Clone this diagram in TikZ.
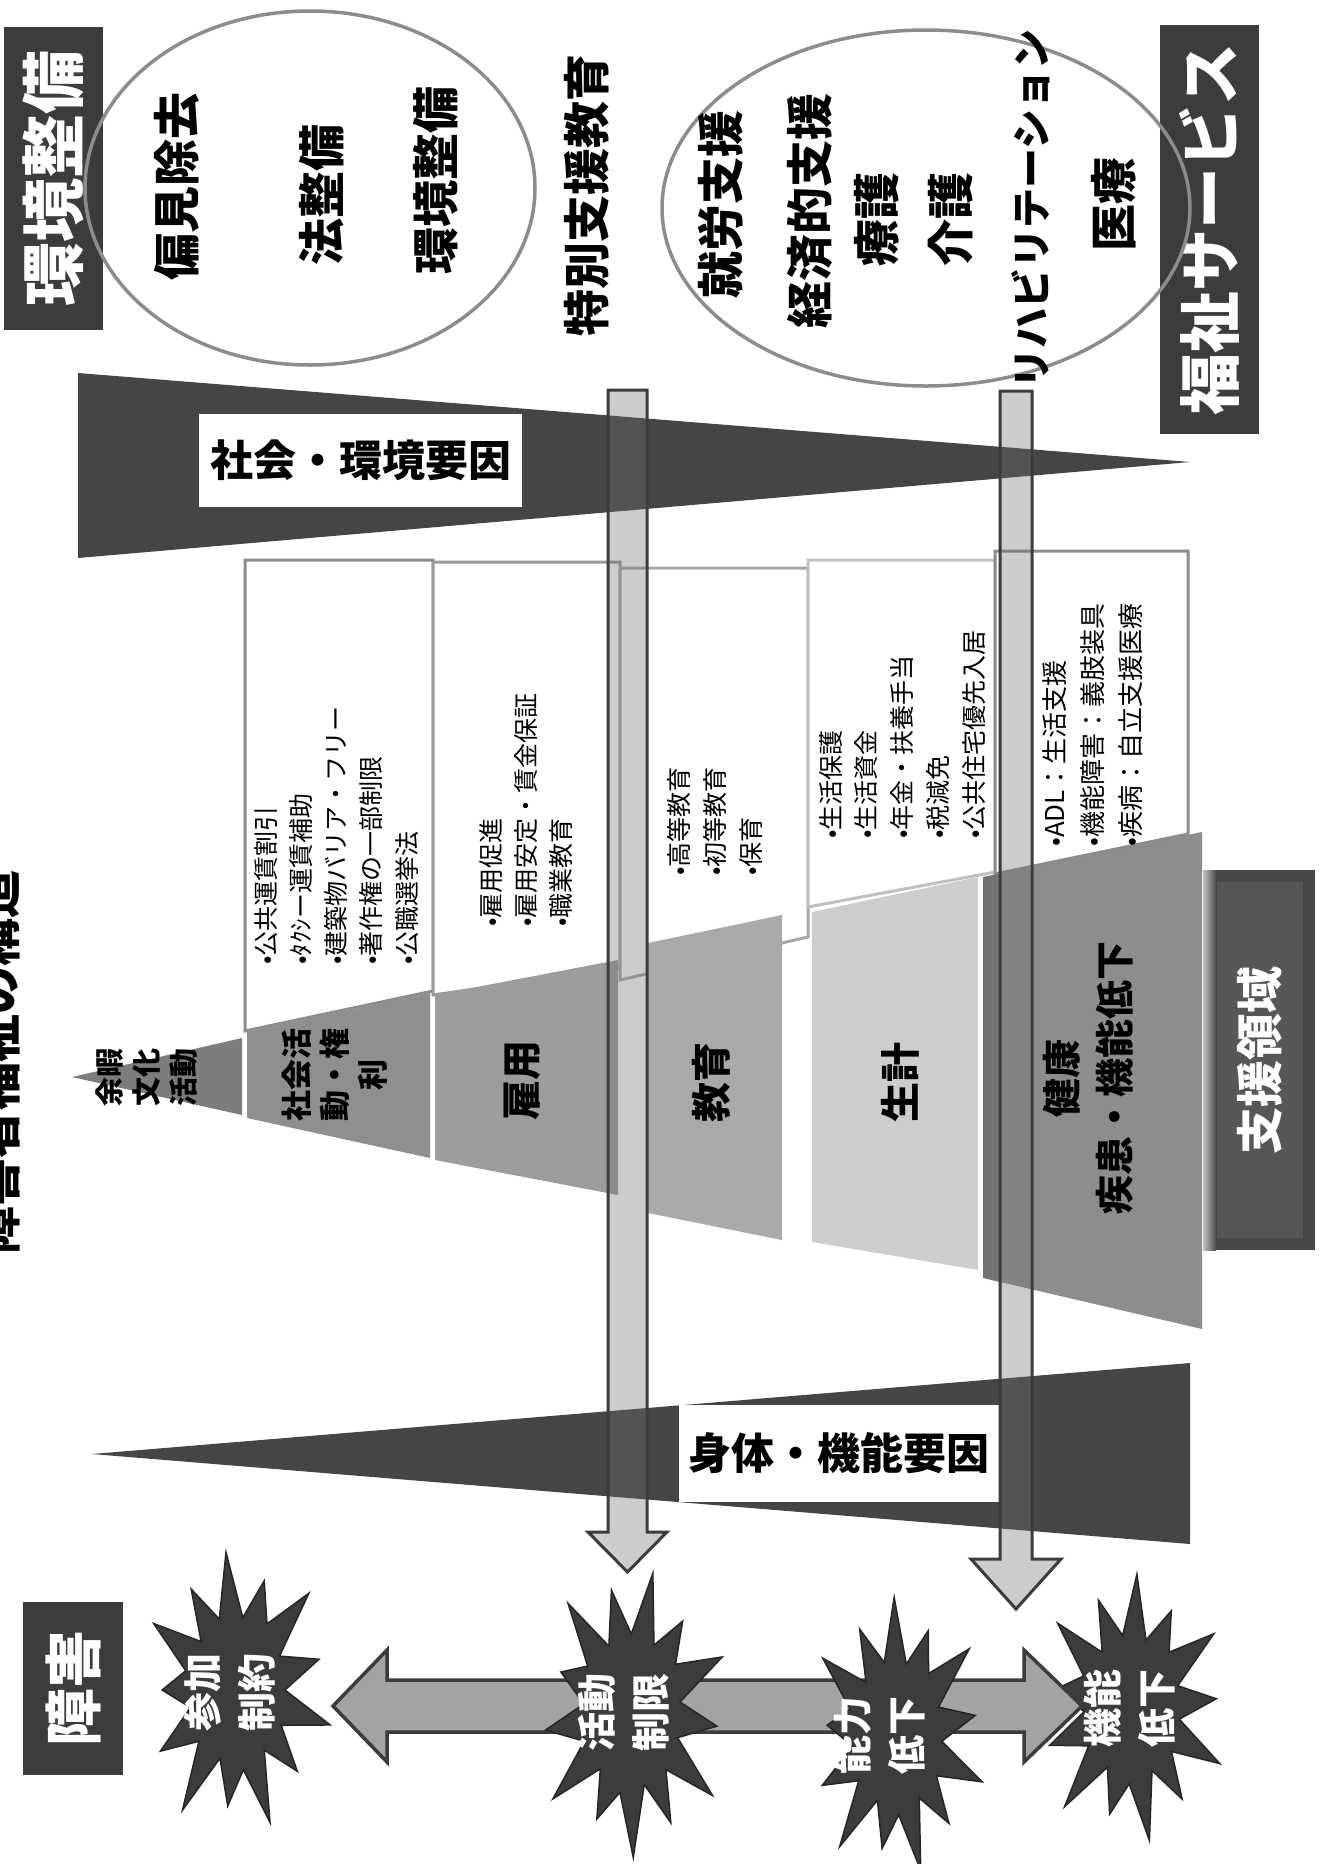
\documentclass[tikz,border=0pt]{standalone}
\usepackage{fontspec}
\setmainfont{Noto Sans CJK JP}
\usetikzlibrary{calc}
\newcommand\fsz[1]{\fontsize{#1}{#1}\selectfont}
\newcommand\fszl[2]{\fontsize{#1}{#2}\selectfont}
\definecolor{dk}{HTML}{3C3C3C}
\definecolor{wedgec}{HTML}{454545}
\definecolor{ellc}{HTML}{8C8C8C}
\definecolor{bA}{HTML}{7D7D7D}
\definecolor{bB}{HTML}{8F8F8F}
\definecolor{bC}{HTML}{9C9C9C}
\definecolor{bD}{HTML}{A9A9A9}
\definecolor{bE}{HTML}{CDCDCD}
\definecolor{bF}{HTML}{8D8D8D}
\definecolor{lnA}{HTML}{8C8C8C}
\definecolor{lnB}{HTML}{9A9A9A}
\definecolor{lnC}{HTML}{A8A8A8}
\definecolor{lnD}{HTML}{C0C0C0}
\definecolor{arrfill}{HTML}{6F6F6F}
\definecolor{dblfill}{HTML}{A3A3A3}
\newcommand\burstdraw[4]{%
  \filldraw[burstst] ($(#1)+(#4:{.5*#2} and {.5*#3})$)
   \foreach \k/\r in {1/1,2/.52,3/.84,4/.5,5/.97,6/.55,7/.8,8/.5,9/1,10/.53,11/.9,12/.5,13/.78,14/.55,15/.98,16/.5,17/.84,18/.52,19/.95,20/.5,21/.8,22/.55,23/1,24/.5,25/.88}
   { -- ($(#1)+({#4+\k*360/26}:{\r*#2} and {\r*#3})$) } -- cycle;}
\begin{document}
\begin{tikzpicture}[x=1pt,y=-1pt,
  vt/.style={rotate=90, inner sep=0pt},
  darkbox/.style={rotate=90, fill=dk, text=white, inner sep=0pt},
  ellline/.style={draw=ellc, line width=3.5pt},
  boxst/.style={fill=white, line width=3pt},
  bul/.style={rotate=90, anchor=north west, inner sep=0pt, align=left, font=\fszl{25}{35.5}},
  bandtxt/.style={rotate=90, inner sep=0pt, align=center},
  wlabel/.style={fill=white, inner sep=0pt, font=\bfseries\fsz{43}},
  arr/.style={fill=arrfill, fill opacity=.35, draw=dk, line width=3pt, line join=miter},
  dbl/.style={fill=dblfill, draw=dk, line width=3.5pt, line join=miter},
  burstst/.style={fill=dk, draw=black!85, line width=1.5pt, line join=miter},
  bursttxt/.style={rotate=90, inner sep=0pt, text=white, align=center, font=\bfseries\fszl{39}{54}}
]
\useasboundingbox (0,0) rectangle (1322,1864);
\fill[white] (0,0) rectangle (1322,1864);

% title (cut off at the left edge, as in the reference)
\node[vt, anchor=south, font=\bfseries\fsz{48}] (title) at (20,1062) {障害者福祉の構造};

% top dark boxes
\node[darkbox, minimum width=303pt, minimum height=99pt, font=\bfseries\fsz{64}] (kankyo) at (53.5,178.5) {環境整備};
\node[darkbox, minimum width=409pt, minimum height=99pt, font=\bfseries\fsz{62}] (fukushi) at (1209.5,229.5) {福祉サービス};

% ellipses
\draw[ellline] (310,188) ellipse [x radius=225pt, y radius=177pt];
\draw[ellline] (926,208) ellipse [x radius=264pt, y radius=178pt];

\node[vt, font=\bfseries\fsz{47}] (henken) at (177,186) {偏見除去};
\node[vt, font=\bfseries\fsz{47}] (hou) at (322,195) {法整備};
\node[vt, font=\bfseries\fsz{47}] (kankyo2) at (436,180) {環境整備};
\node[vt, font=\bfseries\fsz{47}] (tokubetsu) at (587,195) {特別支援教育};
\node[vt, font=\bfseries\fsz{47}] (shuro) at (721,204) {就労支援};
\node[vt, font=\bfseries\fsz{47}] (keizai) at (810,211) {経済的支援};
\node[vt, font=\bfseries\fsz{47}] (ryogo) at (877,219) {療護};
\node[vt, font=\bfseries\fsz{47}] (kaigo) at (951,219) {介護};
\node[vt, font=\bfseries\fsz{40}] (riha) at (1031,209) {リハビリテーション};
\node[vt, font=\bfseries\fsz{47}] (iryo) at (1114,204) {医療};

% support boxes
\filldraw[boxst, draw=lnA] (245,560) -- (433,560) -- (433,991) -- (245,1031) -- cycle;
\filldraw[boxst, draw=lnB] (433,562) -- (620,562) -- (620,968) -- (433,995) -- cycle;
\filldraw[boxst, draw=lnC] (620,568) -- (808,568) -- (808,937) -- (620,980) -- cycle;
\filldraw[boxst, draw=lnD] (808,560) -- (995,560) -- (995,872) -- (808,907) -- cycle;
\filldraw[boxst, draw=lnA] (995,551) -- (1188,551) -- (1188,834) -- (995,874) -- cycle;

\node[bul, font=\fszl{25}{35.25}] (t1) at (254,965) {•公共運賃割引\\•ﾀｸｼー運賃補助\\•建築物バリア・フリー\\•著作権の一部制限\\•公職選挙法};
\node[bul, font=\fszl{25}{35}] (t2) at (479,927) {•雇用促進\\•雇用安定・賃金保証\\•職業教育};
\node[bul, font=\fszl{25}{36}] (t3) at (667,876) {•高等教育\\•初等教育\\•保育};
\node[bul, font=\fszl{25}{35.75}] (t4) at (819,839) {•生活保護\\•生活資金\\•年金・扶養手当\\•税減免\\•公共住宅優先入居};
\node[bul, font=\fszl{26}{38}] (t5) at (1042,847) {•ADL：生活支援\\•機能障害：義肢装具\\•疾病：自立支援医療};

% pyramid bands
\fill[bA] (72,1077) -- (242,1038) -- (242,1115) -- cycle;
\fill[bB] (247,1032) -- (430,993) -- (430,1158) -- (247,1118) -- cycle;
\fill[bC] (435,995) -- (618,960) -- (618,1195) -- (435,1160) -- cycle;
\fill[bD] (648,943) -- (782,915) -- (782,1240) -- (648,1213) -- cycle;
\fill[bE] (812,912) -- (978,877) -- (978,1270) -- (812,1242) -- cycle;
\fill[bF] (983,877) -- (1202,832) -- (1202,1329) -- (983,1278) -- cycle;
\fill[black, opacity=.18] (983,877) -- (1000,873.5) -- (1000,1282) -- (983,1278) -- cycle;

\node[bandtxt, font=\bfseries\fszl{29}{37}] (yoka) at (147,1077) {余暇\\文化\\活動};
\node[bandtxt, font=\bfseries\fszl{31}{38}] (shakaik) at (335,1075) {社会活\\動・権\\利};
\node[bandtxt, font=\bfseries\fsz{40}] (koyo) at (522,1080) {雇用};
\node[bandtxt, font=\bfseries\fsz{40}] (kyoiku) at (711,1082) {教育};
\node[bandtxt, font=\bfseries\fsz{40}] (seikei) at (900,1082) {生計};
\node[bandtxt, font=\bfseries\fszl{39}{53}] (kenko) at (1088,1078) {健康\\疾患・機能低下};

% support area box
\fill[black!72] (1203,870) rectangle (1315,1250);
\shade[left color=black!25, right color=black!70] (1203,870) rectangle (1216,1250);
\node[darkbox, fill=black!66, minimum width=356pt, minimum height=86pt, font=\bfseries\fsz{47}] (shien) at (1260,1060) {支援領域};

% wedges
\fill[wedgec] (78,373) -- (1190,462) -- (78,558) -- cycle;
\node[wlabel, minimum width=323pt, minimum height=93pt] (shakai) at (360.5,460.5) {社会・環境要因};
\fill[wedgec] (92,1454) -- (1190,1363) -- (1190,1544) -- cycle;
\node[wlabel, minimum width=320pt, minimum height=97pt] (shintai) at (839,1453.5) {身体・機能要因};

% vertical arrows
\filldraw[arr] (608,390) -- (647,390) -- (647,1532) -- (667,1532) -- (627.5,1572) -- (588,1532) -- (608,1532) -- cycle;
\filldraw[arr] (1000,391) -- (1032,391) -- (1032,1559) -- (1061,1559) -- (1016,1609) -- (971,1559) -- (1000,1559) -- cycle;

% disability row
\node[darkbox, minimum width=173pt, minimum height=100pt, font=\bfseries\fsz{58}] (shogai) at (73,1688.5) {障害};

\coordinate (kinoC) at (1132,1707);
\burstdraw{kinoC}{96}{140}{10}
\node[bursttxt] (kinoT) at (1130,1708) {機能\\低下};

\filldraw[dbl] (333,1706) -- (387,1650) -- (387,1680) -- (1024,1680) -- (1024,1650) -- (1082,1706) -- (1024,1762) -- (1024,1732) -- (387,1732) -- (387,1762) -- cycle;

\coordinate (sankaC) at (237,1690);
\burstdraw{sankaC}{96}{146}{0}
\node[bursttxt] (sankaT) at (230,1692) {参加\\制約};
\coordinate (katsudoC) at (632,1712);
\burstdraw{katsudoC}{97}{150}{20}
\node[bursttxt] (katsudoT) at (624,1712) {活動\\制限};
\coordinate (noryokuC) at (897,1735);
\burstdraw{noryokuC}{90}{145}{5}
\node[bursttxt] (noryokuT) at (880,1735) {能力\\低下};
\end{tikzpicture}
\end{document}
